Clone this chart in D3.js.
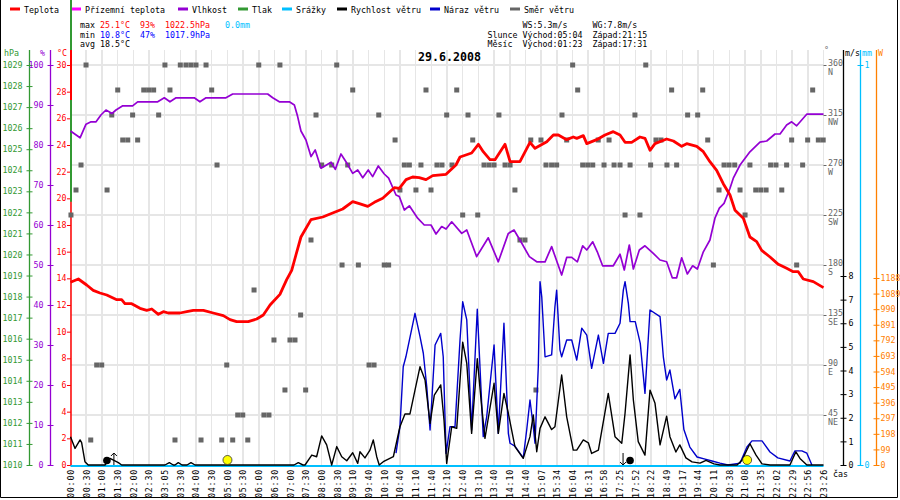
<!DOCTYPE html>
<html>
<head>
<meta charset="utf-8">
<title>29.6.2008</title>
<script src="https://d3js.org/d3.v7.min.js"></script>
<style>
body { margin: 0; background: #fff; }
svg text { font-family: "DejaVu Sans Mono", monospace; font-size: 8.3px; white-space: pre; }
.grid line { stroke: #e6e6e6; stroke-width: 1.5; }
.xlab text { letter-spacing: 0.8px; }
</style>
</head>
<body>
<script>
// time labels on the x axis (one per grid column)
var timeLabels = ['00:00','00:30','01:00','01:30','02:00','02:30','03:05','03:30','04:00','04:30',
  '05:00','05:30','06:00','06:30','07:00','07:30','08:00','08:30','09:10','09:40','10:10','10:40',
  '11:10','11:40','12:10','12:40','13:10','13:40','14:10','14:40','15:07','15:34','16:04','16:31',
  '16:58','17:25','17:52','18:22','18:49','19:17','19:44','20:11','20:38','21:08','21:35','22:02',
  '22:29','22:56','23:26'];

// series: [slot position, value]
var temperature = [[0,13.7],[0.5,13.95],[1.03,13.5],[1.45,13.1],[1.88,12.9],[2.31,12.75],[2.95,12.4],
  [3.26,12.4],[3.47,12.1],[3.9,12.1],[4.43,11.75],[4.86,11.6],[5.18,11.7],[5.6,11.3],[5.92,11.5],
  [6.23,11.4],[6.98,11.4],[7.41,11.5],[7.83,11.6],[8.47,11.6],[9.1,11.4],[9.74,11.2],[10.17,10.9],
  [10.59,10.75],[11.33,10.75],[11.87,10.95],[12.29,11.25],[12.72,12.0],[13.35,12.8],[13.78,13.9],
  [14.1,14.6],[14.37,15.75],[14.69,17.1],[15.33,18.4],[16.08,18.6],[16.71,18.9],[17.35,19.2],
  [17.99,19.75],[18.41,19.6],[18.95,19.4],[19.37,19.7],[19.9,20.0],[20.64,20.8],[20.96,20.75],
  [21.39,21.4],[21.81,21.6],[22.23,21.55],[22.66,21.4],[23.09,21.7],[23.94,21.8],[24.57,22.5],
  [24.83,23.1],[25.57,23.4],[26.0,24.05],[26.31,23.5],[26.74,22.9],[27.06,22.9],[27.7,24.05],
  [28.02,22.75],[28.65,22.75],[29.29,24.2],[29.61,23.75],[30.36,24.25],[30.78,24.75],[31.1,24.75],
  [31.63,24.4],[32.05,24.6],[32.27,24.5],[32.69,24.7],[32.91,24.1],[33.54,24.4],[34.07,24.75],
  [34.6,25.0],[35.03,24.75],[35.35,24.2],[35.77,24.2],[36.3,24.6],[36.62,24.5],[36.94,23.6],
  [37.26,24.1],[38.0,24.45],[38.43,24.3],[38.96,23.9],[39.28,24.1],[39.92,23.9],[40.34,23.5],
  [40.76,22.75],[41.19,22.1],[41.61,21.1],[42.04,20.25],[42.36,19.1],[42.89,18.5],[43.31,17.1],
  [43.74,16.75],[44.06,16.1],[44.59,15.6],[45.12,15.05],[45.65,14.75],[46.07,14.5],[46.39,14.5],
  [46.71,13.95],[47.35,13.75],[48,13.3]];

var humidity = [[0,83.5],[0.61,81.8],[0.99,85.2],[1.31,85.8],[1.63,85.8],[1.94,87.5],[2.26,88.75],
  [2.65,87.9],[2.9,88.75],[3.33,89.8],[3.96,89.8],[4.28,90.8],[5.56,90.8],[5.98,91.8],[6.34,90.8],
  [6.73,91.8],[7.89,91.8],[8.25,90.8],[8.64,91.8],[9.91,91.8],[10.34,92.75],[12.57,92.75],
  [12.89,91.8],[13.31,90.8],[13.95,90.8],[14.27,90.0],[14.48,87.1],[14.69,83.5],[15.01,81.25],
  [15.33,77.1],[15.6,78.75],[15.97,74.2],[16.61,75.7],[16.88,73.9],[17.24,77.75],[17.56,75.8],
  [17.99,72.9],[18.31,73.75],[18.63,71.8],[18.98,73.75],[19.26,72.1],[19.62,74.75],[20.0,72.75],
  [20.28,71.7],[20.75,67.5],[20.96,67.1],[21.28,63.75],[21.6,64.8],[22.13,61.7],[22.55,60],
  [22.98,60],[23.3,57.75],[23.66,59.6],[23.94,59],[24.3,60.8],[24.94,57.9],[25.26,58.75],
  [25.89,52.1],[26.63,56.8],[27.27,50.8],[27.91,57.9],[28.27,58.75],[28.65,56.25],[29.25,52.1],
  [29.72,50.8],[30.25,50.8],[30.67,54.6],[31.31,47.5],[31.63,51.9],[31.95,51.9],[32.31,50.8],
  [32.65,54.8],[32.91,53.75],[33.29,55.8],[33.58,53.3],[33.92,49.8],[34.6,49.8],[35.03,52.7],
  [35.3,48.75],[35.62,55],[35.88,49],[36.26,53.75],[36.62,54.8],[37.15,52.9],[37.58,51.25],
  [38.0,50.8],[38.36,46.8],[38.64,46.8],[38.96,51.8],[39.32,47.75],[39.66,49.8],[39.96,49],
  [40.34,53.3],[40.76,56.25],[41.08,61.7],[41.36,64.2],[41.66,65.4],[42.04,69.2],[42.25,71.7],
  [42.68,75],[43.31,78.3],[43.95,80.7],[44.38,81],[44.91,82.75],[45.23,82.75],[45.65,85],
  [45.97,85.8],[46.29,84.8],[46.61,86.25],[46.93,87.7],[48,87.7]];

var windSpeed = [[0,1.2],[0.29,0.7],[0.61,1.06],[0.71,0.95],[0.92,0.14],[1.13,0],[2.2,0],[2.52,0.28],
  [3.05,0.1],[3.26,0],[6.02,0],[6.3,0.1],[6.55,0],[6.66,0],[6.87,0.1],[7.11,0],[7.43,0],[7.68,0.1],
  [7.94,0],[14.25,0],[14.52,0.1],[14.82,0],[14.95,0],[15.38,0.42],[15.69,0.35],[16.01,1.23],
  [16.33,0.85],[16.65,0],[16.97,0.78],[17.29,0.35],[17.61,0.18],[17.99,0.52],[18.31,0.07],
  [18.45,0.56],[18.77,0.3],[19.09,0.63],[19.3,1.06],[19.52,0.35],[19.68,0],[19.94,0.14],
  [20.58,0.35],[21.0,1.62],[21.32,2.16],[21.64,2.16],[21.96,3.17],[22.28,4.16],[22.6,3.6],
  [22.92,1.76],[23.19,2.96],[23.6,3.39],[23.81,1.9],[23.98,0.07],[24.3,1.62],[24.62,1.55],
  [25.0,5.2],[25.26,4.3],[25.57,1.34],[25.93,4.5],[26.21,2.47],[26.42,1.13],[27.0,3.46],
  [27.27,1.34],[27.63,3.03],[27.91,2.19],[28.33,0.78],[28.86,0.28],[29.29,1.2],[29.5,2.12],
  [29.72,0.56],[29.93,1.55],[30.25,2.04],[30.67,1.5],[30.88,1.62],[31.31,3.81],[31.63,2.04],
  [32.05,0.63],[32.27,0.63],[32.69,1.06],[33.01,0.94],[33.22,0.49],[33.65,0.63],[34.28,3.03],
  [34.71,1.2],[35.14,0.92],[35.35,2.19],[35.67,4.66],[35.88,2.75],[36.19,0.99],[36.62,0.42],
  [36.94,3.17],[37.26,2.61],[37.58,0.85],[38.0,2.07],[38.21,1.2],[38.59,0.55],[38.84,0.85],
  [39.23,0.3],[39.62,0.13],[40.13,0.08],[40.51,0.2],[41.02,0.05],[41.4,0],[42.49,0],[42.8,0.2],
  [43.31,0.9],[43.7,0.42],[44.08,0.05],[44.59,0],[45.86,0],[46.24,0.56],[46.5,0.28],[46.94,0],[48,0]];

var windGust = [[20.75,0.5],[21.0,1.62],[21.21,4.16],[21.38,4.58],[21.96,6.42],[22.28,5.43],
  [22.49,4.73],[22.71,3.31],[22.92,1.48],[23.24,5.08],[23.6,5.57],[23.76,4.58],[23.94,0.49],
  [24.19,1.62],[24.51,1.62],[24.83,5.29],[25.0,6.91],[25.26,6.14],[25.57,1.48],[25.93,6.59],
  [26.31,1.2],[26.53,2.04],[27.0,5.08],[27.27,1.34],[27.63,6.0],[27.91,1.34],[28.02,0.92],
  [28.33,0.8],[28.86,0.3],[29.08,1.48],[29.29,2.75],[29.5,1.62],[29.61,0.92],[29.82,4.16],
  [29.93,7.76],[30.04,7.12],[30.25,4.58],[30.67,4.66],[30.88,6.7],[30.99,7.4],[31.2,4.87],
  [31.31,4.58],[31.63,5.29],[31.95,5.29],[32.27,4.44],[32.59,5.79],[32.91,5.5],[33.22,4.09],
  [33.65,5.5],[33.97,4.3],[34.28,5.57],[34.71,5.57],[35.03,6.0],[35.24,7.4],[35.35,7.76],
  [35.56,6.84],[35.67,6.07],[36.0,6.07],[36.32,5.15],[36.62,3.03],[36.94,6.56],[37.58,6.28],
  [37.79,4.58],[38.0,3.6],[38.21,4.02],[38.53,2.8],[38.84,3.2],[39.1,1.5],[39.48,0.76],
  [39.94,0.34],[40.45,0.25],[40.89,0.17],[41.4,0.08],[41.91,0],[42.68,0.08],[43.12,0.76],
  [43.44,1.02],[44.08,1.02],[44.59,0.55],[45.09,0.3],[45.86,0.17],[46.18,0.6],[46.62,0.6],
  [46.94,0.5],[47.26,0]];

var windDir = [[0.03,225],[0.35,247.5],[0.67,270],[0.99,360],[1.29,22.5],[1.67,90],[1.99,90],
  [2.33,247.5],[2.63,315],[3.01,337.5],[3.33,292.5],[3.65,292.5],[3.96,315],[4.28,292.5],
  [4.67,337.5],[4.98,337.5],[5.3,337.5],[5.62,315],[6.02,360],[6.34,337.5],[6.66,22.5],[7.0,360],
  [7.36,360],[7.68,360],[8.0,360],[8.32,22.5],[8.64,360],[9.0,337.5],[9.34,270],[9.64,22.5],
  [9.96,90],[10.34,22.5],[10.66,45],[10.98,45],[11.3,22.5],[11.7,157.5],[12.0,360],[12.33,45],
  [12.65,45],[12.97,112.5],[13.35,360],[13.67,67.5],[13.99,112.5],[14.31,112.5],[14.67,135],
  [14.99,67.5],[15.33,202.5],[15.65,315],[16.01,270],[16.65,270],[16.97,360],[17.31,180],
  [17.67,270],[17.99,337.5],[18.35,180],[19.03,90],[19.35,90],[19.65,315],[20.0,180],[20.28,180],
  [20.69,292.5],[21.0,247.5],[21.28,270],[21.6,270],[22.02,247.5],[22.34,270],[22.66,337.5],
  [22.98,247.5],[23.36,270],[23.68,270],[23.98,315],[24.32,270],[24.62,337.5],[25.0,225],
  [25.34,315],[25.64,292.5],[25.96,225],[26.36,270],[26.68,270],[27.0,270],[27.31,315],[27.7,270],
  [28.02,270],[28.33,247.5],[28.65,202.5],[28.97,202.5],[29.34,292.5],[29.67,67.5],[29.99,292.5],
  [30.31,270],[30.67,270],[30.99,270],[31.33,315],[31.63,292.5],[32.01,360],[32.33,337.5],
  [32.65,270],[32.97,270],[33.29,270],[33.64,292.5],[34.01,270],[34.33,292.5],[34.65,270],
  [35.03,270],[35.35,225],[35.67,270],[35.98,315],[36.3,225],[36.67,360],[36.98,270],[37.32,292.5],
  [37.64,292.5],[38.02,270],[38.32,337.5],[38.64,270],[39.34,315],[39.98,315],[40.3,337.5],
  [40.62,292.5],[40.98,180],[41.34,247.5],[41.66,270],[41.98,270],[42.34,270],[42.68,247.5],
  [43.0,225],[43.31,270],[43.68,247.5],[44.0,247.5],[44.34,247.5],[44.63,270],[44.97,270],
  [45.34,247.5],[45.65,270],[45.97,292.5],[46.29,180],[46.67,270],[46.99,292.5],[47.31,337.5],
  [47.67,292.5],[47.98,292.5]];

var rainfall = [[0,0],[48,0]];
var pressure = [[0,1022.5]];

var sunTimes = ['05:04','21:15'];
var moonTimes = ['01:23','17:31'];

var statsMax = ['25.1°C','93%','1022.5hPa','0.0mm'];
var statsMin = ['10.8°C','47%','1017.9hPa'];
var statsAvg = ['18.5°C'];
var windStats = ['WS:5.3m/s','WG:7.8m/s'];
var sunStats = ['Východ:05:04','Západ:21:15'];
var moonStats = ['Východ:01:23','Západ:17:31'];

var legendNames = ['Teplota','Přízemní teplota','Vlhkost','Tlak','Srážky','Rychlost větru','Náraz větru','Směr větru'];
var legendColors = ['#ff0000','#ff00ff','#9400d3','#339933','#00bfff','#000000','#0000cc','#666666'];
var legendX = [10,71,178,238,282,337,430,510];

var dirTicks = [45,90,135,180,225,270,315,360];
var compass = ['NE','E','SE','S','SW','W','NW','N'];

var svg = d3.select('body').append('svg').attr('width', 900).attr('height', 500);

var plotTop = 65, plotBottom = 465;
var x = d3.scaleLinear().domain([0, 48]).range([70.5, 823.5]);
var yT = d3.scaleLinear().domain([0, 30]).range([plotBottom, plotTop]);
var yH = d3.scaleLinear().domain([0, 100]).range([plotBottom, plotTop]);
var yP = d3.scaleLinear().domain([1010, 1029]).range([plotBottom, plotTop]);
var yDir = d3.scaleLinear().domain([0, 360]).range([plotBottom, plotTop]);
var yWind = d3.scaleLinear().domain([0, 8]).range([plotBottom, 276]);
var yMm = d3.scaleLinear().domain([0, 1]).range([plotBottom, plotTop]);
var yW = d3.scaleLinear().domain([0, 1188]).range([plotBottom, 278]);

function toMin(t) { var p = t.split(':'); return +p[0] * 60 + +p[1]; }
function timeToSlot(t) {
  var m = toMin(t);
  for (var i = 0; i < timeLabels.length - 1; i++) {
    var a = toMin(timeLabels[i]), b = toMin(timeLabels[i + 1]);
    if (m >= a && m <= b) return i + (m - a) / (b - a);
  }
  return 48;
}

// frame
svg.append('path').attr('d', 'M0.5,0 V497.5 H897.5 V0').attr('fill', 'none').attr('stroke', '#000');

// grid
var grid = svg.append('g').attr('class', 'grid').attr('shape-rendering', 'crispEdges');
grid.selectAll('.v').data(d3.range(49)).enter().append('line')
  .attr('x1', function(d) { return x(d); }).attr('x2', function(d) { return x(d); })
  .attr('y1', 50).attr('y2', plotBottom);
grid.selectAll('.h').data(dirTicks).enter().append('line')
  .attr('x1', x(0)).attr('x2', x(48))
  .attr('y1', function(d) { return yDir(d); }).attr('y2', function(d) { return yDir(d); });

// legend
var leg = svg.append('g');
legendNames.forEach(function(n, i) {
  leg.append('line').attr('x1', legendX[i]).attr('x2', legendX[i] + 10).attr('y1', 9).attr('y2', 9)
    .attr('stroke', legendColors[i]).attr('stroke-width', 3);
  leg.append('text').attr('x', legendX[i] + 14).attr('y', 12.5).text(n);
});

// stats
function statRow(x0, y0, parts) {
  var t = svg.append('text').attr('x', x0).attr('y', y0);
  parts.forEach(function(p) { t.append('tspan').attr('fill', p[1]).text(p[0]); });
}
statRow(80, 27.5, [['max ', '#000'], [statsMax[0], '#ff0000'], ['  ', '#000'], [statsMax[1], '#ff0000'],
  ['  ', '#000'], [statsMax[2], '#ff0000'], ['   ', '#000'], [statsMax[3], '#00bfff']]);
statRow(80, 37.5, [['min ', '#000'], [statsMin[0], '#0000ff'], ['  ', '#000'], [statsMin[1], '#0000ff'],
  ['  ', '#000'], [statsMin[2], '#0000ff']]);
statRow(80, 47, [['avg ', '#000'], [statsAvg[0], '#000']]);
statRow(487.5, 27.5, [['       ' + windStats[0] + '     ' + windStats[1], '#000']]);
statRow(487.5, 37.5, [['Slunce ' + sunStats[0] + '  ' + sunStats[1], '#000']]);
statRow(487.5, 47, [['Měsíc  ' + moonStats[0] + '  ' + moonStats[1], '#000']]);

svg.append('text').attr('x', 449.5).attr('y', 61).attr('text-anchor', 'middle')
  .style('font-size', '11.6px').style('font-weight', 'bold').text('29.6.2008');

// vertical axes
function vAxis(scale, xPos, values, color, side, opts) {
  opts = opts || {};
  var g = svg.append('g').attr('transform', 'translate(' + xPos + ',0)');
  var ax = (side === 'left' ? d3.axisLeft(scale) : d3.axisRight(scale))
    .tickValues(values).tickSize(3).tickPadding(opts.pad || 3)
    .tickFormat(opts.fmt || function(d) { return d; });
  g.call(ax);
  g.select('.domain').remove();
  g.selectAll('.tick line').attr('stroke', opts.tickColor || color)
    .attr('x1', opts.x1 != null ? opts.x1 : -3).attr('x2', opts.x2 != null ? opts.x2 : 3);
  g.selectAll('.tick text').attr('fill', color);
  if (!opts.noLine) {
    g.append('line').attr('y1', 50).attr('y2', plotBottom).attr('stroke', color).attr('stroke-width', opts.lw || 1.3);
  }
  return g;
}

vAxis(yP, 29.5, d3.range(1010, 1030), '#339933', 'left', { pad: 4 });
vAxis(yH, 50.5, d3.range(0, 101, 10), '#9400d3', 'left', { pad: 4 });
vAxis(yT, 71, d3.range(0, 31, 2), '#ff0000', 'left', { pad: 1.5, x1: -4, x2: 0, lw: 1.5 });

svg.append('text').attr('x', 4).attr('y', 56).attr('fill', '#339933').text('hPa');
svg.append('text').attr('x', 40).attr('y', 56).attr('fill', '#9400d3').text('%');
svg.append('text').attr('x', 57).attr('y', 56).attr('fill', '#ff0000').text('°C');

// direction axis
var dAx = vAxis(yDir, 823.5, dirTicks, '#666666', 'right', { pad: 1.5, x1: 0, x2: 3, noLine: true });
dAx.selectAll('.tick text').attr('dy', '0.1em');
dAx.selectAll('.tick').append('text').attr('x', 4.5).attr('dy', '1.15em').attr('fill', '#666666')
  .text(function(d) { return compass[dirTicks.indexOf(d)]; });
svg.append('text').attr('x', 824).attr('y', 53).attr('fill', '#666666').text('°');

vAxis(yWind, 843.5, d3.range(0, 9), '#000000', 'right', { pad: 2 });
vAxis(yMm, 860.5, [0, 1], '#00bfff', 'right', { pad: 1 });
vAxis(yW, 876.5, d3.range(0, 1189, 99), '#ff8000', 'right', { pad: 1 });
svg.append('text').attr('x', 845).attr('y', 56).text('m/s');
svg.append('text').attr('x', 862).attr('y', 56).attr('fill', '#00bfff').text('mm');
svg.append('text').attr('x', 878).attr('y', 56).attr('fill', '#ff8000').text('W');

// x axis labels
var xg = svg.append('g').attr('class', 'xlab').attr('transform', 'translate(0,' + plotBottom + ')')
  .call(d3.axisBottom(x).tickValues(d3.range(49)).tickSize(0).tickFormat(function(i) { return timeLabels[i]; }));
xg.select('.domain').remove();
xg.selectAll('.tick text').attr('transform', 'rotate(-90)').attr('text-anchor', 'end')
  .attr('x', -4).attr('y', 0).attr('dy', '0.35em').attr('fill', '#000');
svg.append('text').attr('x', 833).attr('y', 477).text('čas');

// wind direction squares
svg.append('g').selectAll('rect').data(windDir).enter().append('rect')
  .attr('x', function(d) { return x(d[0]) - 2.5; })
  .attr('y', function(d) { return yDir(d[1]) - 2.5; })
  .attr('width', 5).attr('height', 5).attr('fill', '#666666');

// pressure trace and temperature axis overlay
svg.append('line').attr('x1', x(pressure[0][0]) + 0.5).attr('x2', x(pressure[0][0]) + 0.5)
  .attr('y1', 0).attr('y2', yP(pressure[0][1])).attr('stroke', '#339933').attr('stroke-width', 2);
svg.append('line').attr('x1', 71).attr('x2', 71).attr('y1', 50).attr('y2', 100)
  .attr('stroke', '#ff0000').attr('stroke-width', 2);

function drawLine(data, yScale, color, width, dy) {
  var line = d3.line().x(function(d) { return x(d[0]); }).y(function(d) { return yScale(d[1]) + (dy || 0); });
  svg.append('path').datum(data).attr('d', line).attr('fill', 'none')
    .attr('stroke', color).attr('stroke-width', width).attr('stroke-linejoin', 'round');
}

drawLine(rainfall, yMm, '#00bfff', 2, 1);
drawLine(humidity, yH, '#9400d3', 1.7);
drawLine(temperature, yT, '#ff0000', 2.8);
drawLine(windGust, yWind, '#0000cc', 1.4);
drawLine(windSpeed, yWind, '#000000', 1.4);

// sun and moon
sunTimes.forEach(function(t) {
  svg.append('circle').attr('cx', x(timeToSlot(t)) - 2).attr('cy', 460).attr('r', 4.5)
    .attr('fill', '#ffff00').attr('stroke', '#333').attr('stroke-width', 0.8);
});
moonTimes.forEach(function(t, i) {
  var mx = x(timeToSlot(t));
  var off = i === 0 ? -7 : 7;
  svg.append('circle').attr('cx', mx + off).attr('cy', 460.5).attr('r', 3.8).attr('fill', '#000');
  svg.append('line').attr('x1', mx).attr('x2', mx).attr('y1', 453).attr('y2', 465).attr('stroke', '#000');
  var tipY = i === 0 ? 453 : 465, s = i === 0 ? 1 : -1;
  svg.append('path').attr('d', 'M' + (mx - 3) + ',' + (tipY + 3 * s) + ' L' + mx + ',' + tipY + ' L' + (mx + 3) + ',' + (tipY + 3 * s))
    .attr('fill', 'none').attr('stroke', '#000');
});
</script>
</body>
</html>
